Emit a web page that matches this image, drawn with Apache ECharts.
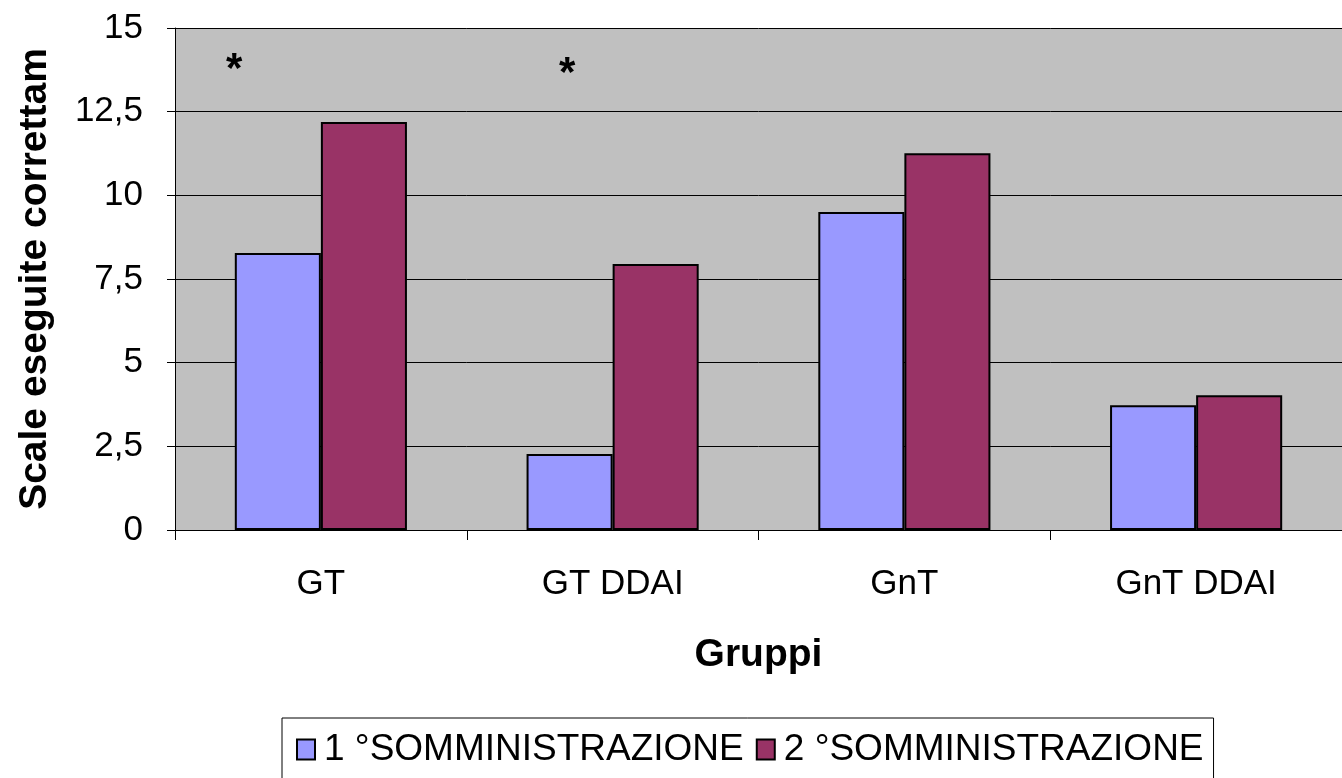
<!DOCTYPE html>
<html>
<head>
<meta charset="utf-8">
<script src="https://cdn.jsdelivr.net/npm/echarts@6/dist/echarts.min.js"></script>
<style>
  html, body { margin: 0; padding: 0; background: #fff; }
  #chart { width: 1342px; height: 778px; }
</style>
</head>
<body>
<div id="chart"></div>
<script>
const categories = ["GT", "GT DDAI", "GnT", "GnT DDAI"];
const first = [8.28, 2.27, 9.5, 3.73];
const second = [12.19, 7.95, 11.26, 4.03];
const seriesNames = ["1 °SOMMINISTRAZIONE", "2 °SOMMINISTRAZIONE"];

const chart = echarts.init(document.getElementById("chart"));
const font = "'Liberation Sans', Arial, sans-serif";

const option = {
  animation: false,
  textStyle: { fontFamily: font },
  grid: { left: 175, right: 0, top: 28, bottom: 248, show: true, backgroundColor: "#c0c0c0", borderWidth: 0 },
  legend: {
    left: 282,
    top: 718,
    padding: [13, 10, 14, 14],
    itemGap: 12,
    itemWidth: 18,
    itemHeight: 20,
    icon: "rect",
    borderColor: "#000",
    borderWidth: 1,
    textStyle: { fontSize: 37, color: "#000", fontFamily: font, padding: [0, 0, 0, 4] },
    data: seriesNames
  },
  xAxis: {
    type: "category",
    data: categories,
    name: "Gruppi",
    nameLocation: "middle",
    nameGap: 106,
    nameTextStyle: { fontSize: 39, fontWeight: "bold", color: "#000" },
    axisLine: { lineStyle: { color: "#000", width: 1 } },
    axisTick: { show: true, length: 10, lineStyle: { color: "#000" } },
    axisLabel: { fontSize: 35, color: "#000", margin: 37 }
  },
  yAxis: {
    type: "value",
    min: 0,
    max: 15,
    interval: 2.5,
    name: "Scale eseguite correttam",
    nameLocation: "middle",
    nameGap: 120,
    nameTextStyle: { fontSize: 39, fontWeight: "bold", color: "#000" },
    axisLine: { show: true, lineStyle: { color: "#000", width: 1 } },
    axisTick: { show: true, length: 8, lineStyle: { color: "#000" } },
    axisLabel: {
      fontSize: 35, color: "#000", margin: 32,
      formatter: v => String(v).replace(".", ",")
    },
    splitLine: { lineStyle: { color: "#000", width: 1 } }
  },
  series: [
    {
      name: seriesNames[0],
      type: "bar",
      data: first,
      barGap: "0%",
      barCategoryGap: "41%",
      itemStyle: { color: "#9999ff", borderColor: "#000", borderWidth: 2 }
    },
    {
      name: seriesNames[1],
      type: "bar",
      data: second,
      itemStyle: { color: "#993366", borderColor: "#000", borderWidth: 2 }
    }
  ],
  graphic: [
    { type: "text", left: 226, top: 49, style: { text: "*", fontSize: 42, fontWeight: "bold", fill: "#000", fontFamily: font } },
    { type: "text", left: 559, top: 53, style: { text: "*", fontSize: 42, fontWeight: "bold", fill: "#000", fontFamily: font } }
  ]
};

chart.setOption(option);
</script>
</body>
</html>
